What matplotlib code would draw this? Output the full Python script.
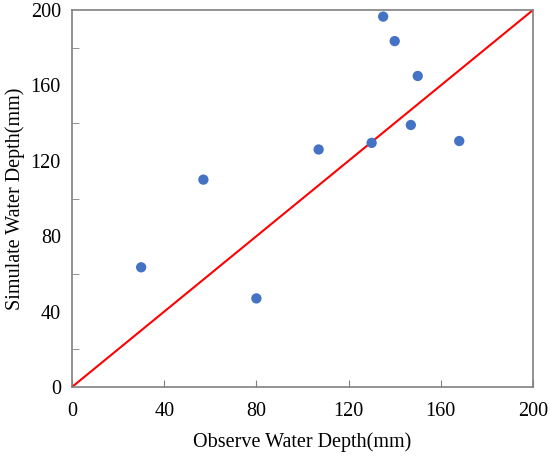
import matplotlib.pyplot as plt
from matplotlib.ticker import FixedLocator

observed = [30, 57, 80, 107, 130, 135, 140, 150, 147, 168]
simulated = [63.5, 110, 47, 126, 129.5, 196.5, 183.5, 165, 139, 130.5]
ticks = [0, 40, 80, 120, 160, 200]

plt.rcParams['font.family'] = ['Liberation Serif', 'DejaVu Serif']

fig = plt.figure(figsize=(5.5, 4.57), dpi=100)
ax = fig.add_axes([72 / 550, 70 / 457, 461 / 550, 377 / 457])

ax.plot([0, 200], [0, 200], color="#ff0000", linewidth=1.5, zorder=2)
ax.scatter(observed, simulated, s=55, color="#4472c4", edgecolors="none", zorder=3)

ax.set_xlim(0, 200)
ax.set_ylim(0, 200)
ax.set_xticks(ticks)
ax.set_yticks(ticks)
ax.yaxis.set_minor_locator(FixedLocator([20, 60, 100, 140, 180]))

for s in ax.spines.values():
    s.set_color("#808080")
    s.set_linewidth(1.2)

ax.tick_params(axis="x", direction="in", length=5, color="#808080", labelsize=14.5, pad=11)
ax.tick_params(axis="y", which="major", length=0, labelsize=14.5, pad=8)
ax.tick_params(axis="y", which="minor", direction="in", length=5, color="#808080")

ax.set_xlabel("Observe Water Depth(mm)", fontsize=14.5, labelpad=8)
ax.set_ylabel("Simulate Water Depth(mm)", fontsize=14.5, labelpad=4)

fig.savefig("out.png", dpi=100)
